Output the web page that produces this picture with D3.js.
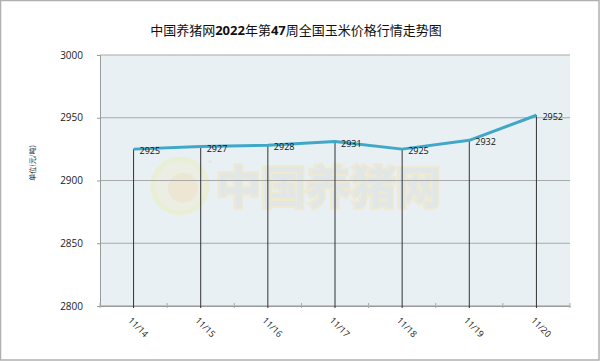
<!DOCTYPE html>
<html>
<head>
<meta charset="utf-8">
<script src="https://cdn.jsdelivr.net/npm/d3@7/dist/d3.min.js"></script>
<style>
body{margin:0;background:#fff;}
svg text{font-family:"Noto Sans CJK SC","Open Sans",sans-serif;}
</style>
</head>
<body>
<svg></svg>
<script>
var dates = ["11/14","11/15","11/16","11/17","11/18","11/19","11/20"];
var prices = [2925,2927,2928,2931,2925,2932,2952];
var yTicks = [2800,2850,2900,2950,3000];

var width = 600, height = 361;
var plotL = 100, plotR = 570, plotT = 55, plotB = 306;

var svg = d3.select("svg").attr("width", width).attr("height", height);

// frame
svg.append("rect")
	.attr("x", 0.5).attr("y", 0.5)
	.attr("width", width - 1.5).attr("height", height - 1.5)
	.style("fill", "#fff").style("stroke", "#b0b0b0").style("stroke-width", 1.5);

var x = d3.scaleBand().domain(dates).range([plotL, plotR]);
var y = d3.scaleLinear().domain([2800, 3000]).range([plotB, plotT]);

// plot background
svg.append("rect")
	.attr("x", plotL).attr("y", plotT)
	.attr("width", plotR - plotL).attr("height", plotB - plotT)
	.style("fill", "#e9f0f4");

// watermark
var wm = svg.append("g").style("opacity", 0.6);
wm.append("circle").attr("cx", 180).attr("cy", 186).attr("r", 27)
	.style("fill", "#efeed8").style("stroke", "#e8efc2").style("stroke-width", 5);
wm.append("circle").attr("cx", 183).attr("cy", 188).attr("r", 15)
	.style("fill", "#f1e0bd");
wm.append("text").attr("x", 216).attr("y", 204)
	.style("font-size", "45px").style("font-weight", "bold")
	.style("fill", "#dde2e0").style("stroke", "#f3e6bd").style("stroke-width", 4)
	.style("paint-order", "stroke")
	.text("中国养猪网");
wm.append("text").attr("x", 208).attr("y", 166)
	.style("font-size", "8px").style("fill", "#d8d8d8").text("®");

// grid
svg.selectAll(".grid").data(yTicks).enter().append("line")
	.attr("x1", plotL).attr("x2", plotR)
	.attr("y1", d => y(d)).attr("y2", d => y(d))
	.style("stroke", d => d == 2800 ? "#999" : "#a8a8a8").style("stroke-width", 1);

// y axis
var yAxis = svg.append("g").attr("transform", "translate(" + plotL + ",0)")
	.call(d3.axisLeft(y).tickValues(yTicks).tickSize(3).tickPadding(14).tickFormat(d3.format("d")));
yAxis.select(".domain").style("stroke", "#999");
yAxis.selectAll("line").style("stroke", "#999");
yAxis.selectAll("text").style("font-size", "10px").style("fill", "#222")
	.style("font-family", "'Open Sans',sans-serif");

svg.append("text")
	.attr("transform", "translate(35,163) rotate(-90)")
	.attr("text-anchor", "middle")
	.style("font-size", "7px").style("fill", "#222")
	.text("单位(元/吨)");

// x axis
var xAxis = svg.append("g").attr("transform", "translate(0," + plotB + ")")
	.call(d3.axisBottom(x).tickSize(0).tickFormat(""));
xAxis.select(".domain").style("stroke", "#999");
var bounds = d3.range(dates.length + 1).map(i => plotL + i * x.step());
svg.selectAll(".minor").data(bounds).enter().append("line")
	.attr("x1", d => d).attr("x2", d => d)
	.attr("y1", plotB - 3).attr("y2", plotB + 2)
	.style("stroke", "#aaa");

svg.selectAll(".xl").data(dates).enter().append("text")
	.attr("transform", d => "translate(" + (x(d) + x.bandwidth() / 2 - 6) + "," + (plotB + 15) + ") rotate(45)")
	.style("font-size", "9px").style("fill", "#222")
	.style("font-family", "'Open Sans',sans-serif")
	.text(d => d);

// drop lines
svg.selectAll(".drop").data(prices).enter().append("line")
	.attr("x1", (d, i) => x(dates[i]) + x.bandwidth() / 2)
	.attr("x2", (d, i) => x(dates[i]) + x.bandwidth() / 2)
	.attr("y1", d => y(d)).attr("y2", plotB + 2)
	.style("stroke", "#333").style("stroke-width", 1);

// price line
var line = d3.line()
	.x((d, i) => x(dates[i]) + x.bandwidth() / 2)
	.y(d => y(d));
svg.append("path").datum(prices)
	.attr("d", line)
	.style("fill", "none").style("stroke", "#3fa7c7").style("stroke-width", 3)
	.style("stroke-linejoin", "round");

svg.selectAll(".lbl").data(prices).enter().append("text")
	.attr("x", (d, i) => x(dates[i]) + x.bandwidth() / 2 + 6)
	.attr("y", d => y(d) + 5)
	.style("font-size", "9px").style("fill", "#111")
	.style("font-family", "'Open Sans',sans-serif")
	.text(d => d);

// title
var title = svg.append("text")
	.attr("x", 296).attr("y", 35)
	.attr("text-anchor", "middle")
	.style("font-size", "13px").style("fill", "#111");
title.append("tspan").text("中国养猪网");
title.append("tspan").style("font-weight", "bold").style("font-family", "'Open Sans',sans-serif").text("2022");
title.append("tspan").text("年第");
title.append("tspan").style("font-weight", "bold").style("font-family", "'Open Sans',sans-serif").text("47");
title.append("tspan").text("周全国玉米价格行情走势图");
</script>
</body>
</html>
